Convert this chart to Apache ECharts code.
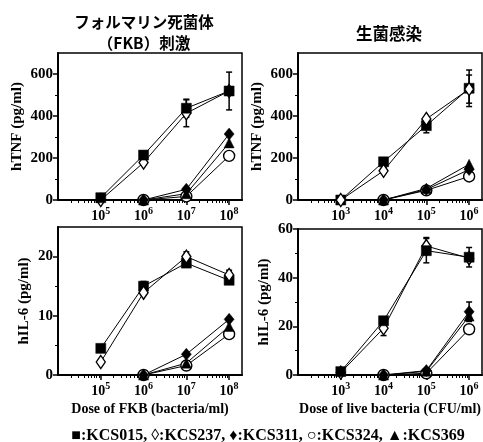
<!DOCTYPE html>
<html><head><meta charset="utf-8">
<script src="https://cdn.jsdelivr.net/npm/echarts@6/dist/echarts.min.js"></script>
<style>html,body{margin:0;padding:0;background:#fff}#c{width:483px;height:442px}</style>
</head><body><div id="c"></div>
<script>
// ---------- data ----------
const strains = ['KCS015', 'KCS237', 'KCS311', 'KCS324', 'KCS369'];
const doseFKB = [1e5, 1e6, 1e7, 1e8];
const doseLive = [1e3, 1e4, 1e5, 1e6];
const fkbTickExp = [5, 6, 7, 8];
const liveTickExp = [3, 4, 5, 6];
const tnfTicks = [0, 200, 400, 600];
const il6FKBTicks = [0, 10, 20];
const il6LiveTicks = [0, 20, 40, 60];

// hTNF, FKB stimulation
const tnfFKB_KCS015 = [11, 214, 437, 519];
const tnfFKB_KCS237 = [0, 178, 413, 519];
const tnfFKB_KCS311 = [null, 0, 51, 314];
const tnfFKB_KCS324 = [null, 0, 17, 210];
const tnfFKB_KCS369 = [null, 0, 30, 272];
const tnfFKB_err_KCS015 = [null, null, 43, 90];
const tnfFKB_err_KCS237 = [null, null, 64, null];

// hTNF, live bacteria
const tnfLive_KCS015 = [0, 182, 354, 532];
const tnfLive_KCS237 = [0, 139, 386, 528];
const tnfLive_KCS311 = [null, 0, 50, 145];
const tnfLive_KCS324 = [null, 0, 46, 112];
const tnfLive_KCS369 = [null, 0, 55, 170];
const tnfLive_err_KCS015 = [null, null, 34, 87];
const tnfLive_err_KCS237 = [null, null, null, 67];

// hIL-6, FKB stimulation
const il6FKB_KCS015 = [4.5, 15.0, 18.9, 16.0];
const il6FKB_KCS237 = [2.2, 13.9, 20.0, 16.9];
const il6FKB_KCS311 = [null, 0, 3.5, 9.4];
const il6FKB_KCS324 = [null, 0, 1.6, 6.9];
const il6FKB_KCS369 = [null, 0, 2.0, 8.2];
const il6FKB_err_KCS015 = [0.6, 0.8, null, null];
const il6FKB_err_KCS237 = [null, null, 0.8, 0.8];

// hIL-6, live bacteria
const il6Live_KCS015 = [1.4, 22.3, 51.1, 48.4];
const il6Live_KCS237 = [1.0, 19.2, 53.0, 48.0];
const il6Live_KCS311 = [null, 0, 1.8, 26.0];
const il6Live_KCS324 = [null, 0, 0.7, 18.8];
const il6Live_KCS369 = [null, 0, 1.5, 24.2];
const il6Live_err_KCS015 = [null, null, 5, 4];
const il6Live_err_KCS237 = [null, 3, 3.5, null];
const il6Live_err_KCS311 = [null, null, null, 4];

// ---------- build ----------
const LOG = Math.log10;
const SERIF = '"Liberation Serif","Times New Roman",serif';
const CJK = '"Noto Sans CJK JP","Noto Sans",sans-serif';

const symbolSpec = {
  KCS015: {symbol: 'rect', size: 10, fill: '#000'},
  KCS237: {symbol: 'diamond', size: [9, 13], fill: '#fff'},
  KCS311: {symbol: 'diamond', size: [10, 12], fill: '#000'},
  KCS324: {symbol: 'circle', size: 11, fill: '#fff'},
  KCS369: {symbol: 'triangle', size: 10, fill: '#000'}
};
const orderSquareTop = ['KCS324', 'KCS369', 'KCS311', 'KCS237', 'KCS015'];
const orderDiamondTop = ['KCS324', 'KCS369', 'KCS311', 'KCS015', 'KCS237'];

const panels = [
  {grid: {left: 58, top: 53, width: 184, height: 147}, dose: doseFKB, xMin: 4, xMax: LOG(2e8), xLabels: fkbTickExp,
   yMax: 700, yLabels: tnfTicks, yMinorStep: 100, yName: 'hTNF (pg/ml)', yGap: 33, xName: '', order: orderSquareTop,
   vals: {KCS015: tnfFKB_KCS015, KCS237: tnfFKB_KCS237, KCS311: tnfFKB_KCS311, KCS324: tnfFKB_KCS324, KCS369: tnfFKB_KCS369},
   errs: {KCS015: tnfFKB_err_KCS015, KCS237: tnfFKB_err_KCS237}},
  {grid: {left: 298, top: 53, width: 184, height: 147}, dose: doseLive, xMin: 2, xMax: LOG(2e6), xLabels: liveTickExp,
   yMax: 700, yLabels: tnfTicks, yMinorStep: 100, yName: 'hTNF (pg/ml)', yGap: 33, xName: '', order: orderDiamondTop,
   vals: {KCS015: tnfLive_KCS015, KCS237: tnfLive_KCS237, KCS311: tnfLive_KCS311, KCS324: tnfLive_KCS324, KCS369: tnfLive_KCS369},
   errs: {KCS015: tnfLive_err_KCS015, KCS237: tnfLive_err_KCS237}},
  {grid: {left: 58, top: 227, width: 184, height: 148}, dose: doseFKB, xMin: 4, xMax: LOG(2e8), xLabels: fkbTickExp,
   yMax: 25, yLabels: il6FKBTicks, yMinorStep: 5, yName: 'hIL-6 (pg/ml)', yGap: 26, xName: 'Dose of FKB (bacteria/ml)', order: orderDiamondTop,
   vals: {KCS015: il6FKB_KCS015, KCS237: il6FKB_KCS237, KCS311: il6FKB_KCS311, KCS324: il6FKB_KCS324, KCS369: il6FKB_KCS369},
   errs: {KCS015: il6FKB_err_KCS015, KCS237: il6FKB_err_KCS237}},
  {grid: {left: 298, top: 229, width: 184, height: 146}, dose: doseLive, xMin: 2, xMax: LOG(2e6), xLabels: liveTickExp,
   yMax: 60, yLabels: il6LiveTicks, yMinorStep: 10, yName: 'hIL-6 (pg/ml)', yGap: 26, xName: 'Dose of live bacteria (CFU/ml)', order: orderSquareTop,
   vals: {KCS015: il6Live_KCS015, KCS237: il6Live_KCS237, KCS311: il6Live_KCS311, KCS324: il6Live_KCS324, KCS369: il6Live_KCS369},
   errs: {KCS015: il6Live_err_KCS015, KCS237: il6Live_err_KCS237, KCS311: il6Live_err_KCS311}}
];

const grids = [], xAxes = [], yAxes = [], series = [];
panels.forEach((p, gi) => {
  grids.push(Object.assign({show: true, borderColor: '#000', borderWidth: 1.5, containLabel: false}, p.grid));
  const minorX = [];
  for (let n = Math.floor(p.xMin); n <= Math.ceil(p.xMax); n++) {
    for (let k = 2; k <= 9; k++) { const v = n + LOG(k); if (v > p.xMin + 1e-6 && v < p.xMax - 1e-6) minorX.push(v); }
  }
  const xi = xAxes.length;
  xAxes.push({
    type: 'value', gridIndex: gi, min: p.xMin, max: p.xMax, position: 'bottom',
    axisLine: {show: true, lineStyle: {color: '#000', width: 2}}, splitLine: {show: false},
    axisTick: {show: true, customValues: p.xLabels, length: 5, lineStyle: {color: '#000', width: 1.5}},
    axisLabel: {customValues: p.xLabels, margin: 3, color: '#000',
      formatter: v => '{b|10}{s|' + Math.round(v) + '}',
      rich: {b: {fontFamily: SERIF, fontWeight: 'bold', fontSize: 14, color: '#000', verticalAlign: 'bottom', lineHeight: 20},
             s: {fontFamily: SERIF, fontWeight: 'bold', fontSize: 10, color: '#000', verticalAlign: 'bottom', lineHeight: 20, padding: [0, 0, 7, 0]}}},
    name: p.xName, nameLocation: 'middle', nameGap: 27,
    nameTextStyle: {fontFamily: SERIF, fontWeight: 'bold', fontSize: 14, color: '#000'}
  });
  xAxes.push({
    type: 'value', gridIndex: gi, min: p.xMin, max: p.xMax, position: 'bottom',
    axisLine: {show: false}, splitLine: {show: false}, axisLabel: {show: false},
    axisTick: {show: true, customValues: minorX, length: 3, lineStyle: {color: '#000', width: 1}}
  });
  const minorY = [];
  for (let v = p.yMinorStep; v < p.yMax; v += p.yMinorStep) if (p.yLabels.indexOf(v) < 0) minorY.push(v);
  const yi = yAxes.length;
  yAxes.push({
    type: 'value', gridIndex: gi, min: 0, max: p.yMax, position: 'left',
    axisLine: {show: true, lineStyle: {color: '#000', width: 2}}, splitLine: {show: false},
    axisTick: {show: true, customValues: p.yLabels, length: 5, lineStyle: {color: '#000', width: 1.5}},
    axisLabel: {customValues: p.yLabels, margin: 5, color: '#000', fontFamily: SERIF, fontWeight: 'bold', fontSize: 15},
    name: p.yName, nameLocation: 'middle', nameGap: p.yGap, nameRotate: 90,
    nameTextStyle: {fontFamily: SERIF, fontWeight: 'bold', fontSize: 15, color: '#000'}
  });
  yAxes.push({
    type: 'value', gridIndex: gi, min: 0, max: p.yMax, position: 'left',
    axisLine: {show: false}, splitLine: {show: false}, axisLabel: {show: false},
    axisTick: {show: true, customValues: minorY, length: 3, lineStyle: {color: '#000', width: 1}}
  });

  // error bars (below markers)
  Object.keys(p.errs).forEach(s => {
    const data = [];
    p.errs[s].forEach((e, i) => { if (e != null && p.vals[s][i] != null) data.push([LOG(p.dose[i]), p.vals[s][i], e]); });
    series.push({
      type: 'custom', xAxisIndex: xi, yAxisIndex: yi, z: 1, silent: true, data,
      renderItem: (params, api) => {
        const x = api.value(0), y = api.value(1), e = api.value(2);
        const t = api.coord([x, y + e]), b = api.coord([x, y - e]);
        const w = 3, st = {stroke: '#000', lineWidth: 1.5};
        return {type: 'group', children: [
          {type: 'line', shape: {x1: t[0], y1: t[1], x2: b[0], y2: b[1]}, style: st},
          {type: 'line', shape: {x1: t[0] - w, y1: t[1], x2: t[0] + w, y2: t[1]}, style: st},
          {type: 'line', shape: {x1: b[0] - w, y1: b[1], x2: b[0] + w, y2: b[1]}, style: st}
        ]};
      }
    });
  });

  p.order.forEach(s => {
    const sp = symbolSpec[s];
    const data = [];
    p.vals[s].forEach((v, i) => { if (v != null) data.push([LOG(p.dose[i]), v]); });
    series.push({
      type: 'line', name: s, xAxisIndex: xi, yAxisIndex: yi, data, z: 3,
      symbol: sp.symbol, symbolSize: sp.size, showAllSymbol: true, animation: false,
      lineStyle: {color: '#000', width: 1},
      itemStyle: {color: sp.fill, borderColor: '#000', borderWidth: sp.fill === '#fff' ? 1.4 : 0.5, opacity: 1}
    });
  });
});

const legendText = '■:KCS015, ◊:KCS237, ♦:KCS311, ○:KCS324, ▲:KCS369';

const chart = echarts.init(document.getElementById('c'), null, {renderer: 'canvas'});
chart.setOption({
  animation: false,
  backgroundColor: '#fff',
  grid: grids, xAxis: xAxes, yAxis: yAxes, series,
  graphic: [
    {type: 'text', x: 144, y: 22, style: {text: 'フォルマリン死菌体', font: 'bold 15.5px ' + CJK, fill: '#000', textAlign: 'center', textVerticalAlign: 'middle'}},
    {type: 'text', x: 144, y: 43, style: {text: '（FKB）刺激', font: 'bold 15.5px ' + CJK, fill: '#000', textAlign: 'center', textVerticalAlign: 'middle'}},
    {type: 'text', x: 389, y: 34, style: {text: '生菌感染', font: 'bold 16.5px ' + CJK, fill: '#000', textAlign: 'center', textVerticalAlign: 'middle'}},
    {type: 'text', x: 268, y: 436, style: {text: legendText, font: 'bold 16px ' + SERIF, fill: '#000', textAlign: 'center', textVerticalAlign: 'middle'}}
  ]
});
</script></body></html>
